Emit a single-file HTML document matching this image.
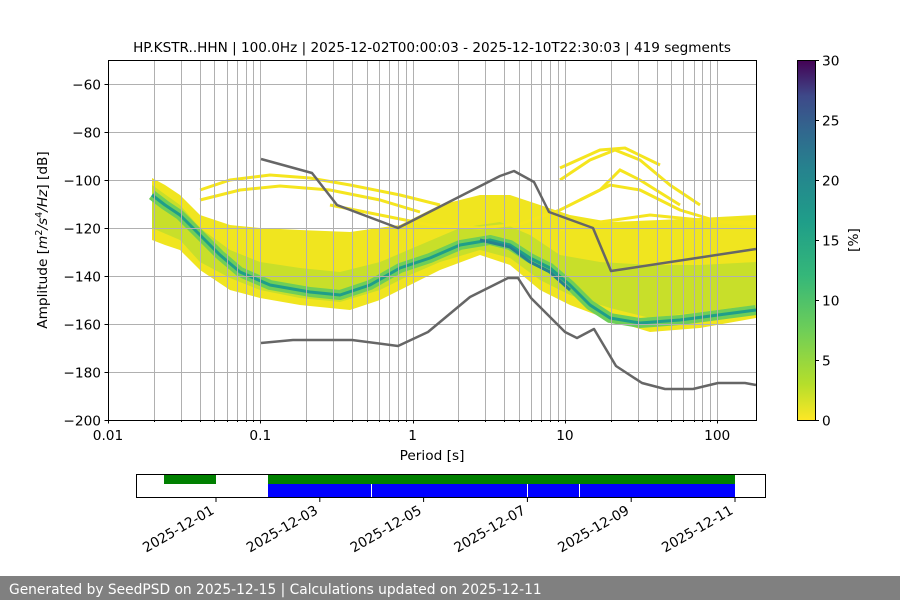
<!DOCTYPE html>
<html><head><meta charset="utf-8"><style>
body{margin:0;background:#fff;font-family:"Liberation Sans","DejaVu Sans",sans-serif}
svg text{font-family:"DejaVu Sans","Liberation Sans",sans-serif;font-size:13.7px;fill:#000}
</style></head><body>
<svg id="s" width="900" height="600" xmlns="http://www.w3.org/2000/svg">
<defs>
<linearGradient id="vir" x1="0" y1="1" x2="0" y2="0">
<stop offset="0" stop-color="#fde725"/><stop offset="0.1" stop-color="#b5de2b"/><stop offset="0.25" stop-color="#6ece58"/><stop offset="0.4" stop-color="#35b779"/><stop offset="0.55" stop-color="#1f9e89"/><stop offset="0.7" stop-color="#26828e"/><stop offset="0.8" stop-color="#31688e"/><stop offset="0.9" stop-color="#3e4989"/><stop offset="1" stop-color="#440154"/>
</linearGradient>
</defs>
<text x="432" y="52" text-anchor="middle" style="font-size:13.6px">HP.KSTR..HHN | 100.0Hz | 2025-12-02T00:00:03 - 2025-12-10T22:30:03 | 419 segments</text>
<g id="data">
<polygon fill="#f0e51f" points="152,178 165,185 180,195 200,215 230,225 260,228 300,230 350,232 400,225 440,205 480,195 510,195 540,205 570,215 610,222 660,220 700,218 756,215 756,318 700,328 650,332 610,320 570,305 540,290 510,265 480,255 440,270 410,285 380,300 350,310 300,305 260,298 230,290 200,270 180,250 165,245 152,240"/>
<polygon fill="#c8df2a" points="152,185 180,205 200,228 230,250 260,262 300,268 340,272 380,262 420,245 460,228 500,222 530,235 560,255 600,262 650,265 700,265 756,262 756,305 700,312 650,318 610,308 570,295 540,280 510,258 480,250 440,262 410,275 380,290 340,302 300,298 260,290 230,278 200,262 180,240 152,228"/>
<polyline fill="none" stroke="#6ece58" stroke-width="10" stroke-linejoin="round" points="152,195 165,205 180,215 200,235 220,255 240,272 270,285 310,292 340,295 370,285 400,268 430,258 460,245 490,240 510,245 530,258 550,268 570,285 590,305 610,318 640,323 680,320 756,310"/>
<polyline fill="none" stroke="#1f9e89" stroke-width="3" stroke-linejoin="round" points="152,195 165,205 180,215 200,235 220,255 240,272 270,285 310,292 340,295 370,285 400,268 430,258 460,245 490,240 510,245 530,258 550,268 570,285 590,305 610,318 640,323 680,320 756,310"/>
<polyline fill="none" stroke="#26828e" stroke-width="3" points="480,240 510,247 530,262 550,272 570,290"/>
<g fill="none" stroke="#f5e51e" stroke-width="3">
<polyline points="200,190 230,180 270,175 310,178 350,185 400,195 440,205"/>
<polyline points="200,200 240,190 280,186 330,190 380,200 420,212"/>
<polyline points="330,205 380,215 430,225 480,228 520,224 560,210 600,190 620,170 640,180 680,205"/>
<polyline points="560,180 590,160 615,150 640,160 670,185 700,205"/>
<polyline points="580,200 610,185 640,190 680,210 720,222 756,222"/>
<polyline points="560,230 600,222 650,215 700,220 756,225"/>
<polyline points="560,168 600,150 625,148 660,165"/>
</g>
</g>
<g id="grid" stroke="#b0b0b0" stroke-width="1"></g>
<g fill="none" stroke="#666" stroke-width="2.5" stroke-linejoin="round">
<polyline points="261,159 312,173 337,205 398,228 500,176 514,171 534,182 549,212 593,228 611,271 756,249"/>
<polyline points="261,343 293,340 352,340 398,346 428,332 470,297 508,278 518,278 531,298 565,332 577,338 594,329 616,366 642,383 665,389 693,389 718,383 745,383 756,385"/>
</g>
<rect x="108.5" y="60.5" width="648" height="360" fill="none" stroke="#000"/>
<g id="ax"></g>
<text x="432" y="460" text-anchor="middle">Period [s]</text>
<text transform="translate(47,240) rotate(-90)" text-anchor="middle">Amplitude [<tspan font-style="italic">m</tspan><tspan dy="-5" style="font-size:9.5px">2</tspan><tspan dy="5" font-style="italic">/s</tspan><tspan dy="-5" style="font-size:9.5px">4</tspan><tspan dy="5" font-style="italic">/Hz</tspan>] [dB]</text>
<rect x="797" y="60" width="18" height="360" fill="url(#vir)"/>
<rect x="797.5" y="60.5" width="18" height="360" fill="none" stroke="#000"/>
<g id="cb"></g>
<text transform="translate(858,240) rotate(-90)" text-anchor="middle">[%]</text>
<rect x="164" y="475" width="52" height="9" fill="#008000"/>
<rect x="268" y="475" width="467" height="9" fill="#008000"/>
<rect x="268" y="484" width="467" height="13" fill="#0000ff"/>
<g stroke="#fff" stroke-width="1"><line x1="371.5" y1="484" x2="371.5" y2="497"/><line x1="527.5" y1="484" x2="527.5" y2="497"/><line x1="579.5" y1="484" x2="579.5" y2="497"/></g>
<rect x="136.5" y="474.5" width="629" height="23" fill="none" stroke="#000"/>
<g id="tl"></g>
<rect x="0" y="576" width="900" height="24" fill="#808080"/>
<text x="9" y="594" style="fill:#fff;font-size:13.8px">Generated by SeedPSD on 2025-12-15 | Calculations updated on 2025-12-11</text>
</svg>
<script>
var NS="http://www.w3.org/2000/svg";
function el(p,t,a,txt){var e=document.createElementNS(NS,t);for(var k in a)e.setAttribute(k,a[k]);if(txt)e.textContent=txt;document.getElementById(p).appendChild(e);return e;}
function X(v){return 108+152.3*Math.log10(v/0.01);}
for(var d=0.01;d<200;d*=10){for(var k=1;k<10;k++){var x=X(d*k);if(x>756)break;x=Math.round(x)+0.5;el("grid","line",{x1:x,y1:60,x2:x,y2:420});el("ax","line",{x1:x,y1:420,x2:x,y2:k==1?423.5:422,stroke:"#000"});}}
var labs=["0.01","0.1","1","10","100"];
for(var i=0;i<5;i++){var x=X(Math.pow(10,i-2));el("ax","text",{x:x,y:440,"text-anchor":"middle"},labs[i]);}
for(var v=-60;v>=-200;v-=20){var y=420-(v+200)*2.4;y=Math.round(y)+0.5;el("grid","line",{x1:108,y1:y,x2:756,y2:y});el("ax","line",{x1:104.5,y1:y,x2:108,y2:y,stroke:"#000"});el("ax","text",{x:101,y:y+5,"text-anchor":"end"},"\u2212"+(-v));}
for(var c=0;c<=30;c+=5){var y=Math.round(420-c*12)+0.5;el("cb","line",{x1:815,y1:y,x2:819,y2:y,stroke:"#000"});el("cb","text",{x:822,y:y+5},""+c);}
var dates=["2025-12-01","2025-12-03","2025-12-05","2025-12-07","2025-12-09","2025-12-11"];
for(var i=0;i<6;i++){var x=216+i*103.8;el("tl","line",{x1:x,y1:498,x2:x,y2:502,stroke:"#000"});el("tl","text",{x:x-1,y:513,"text-anchor":"end",transform:"rotate(-30 "+(x-1)+" 513)"},dates[i]);}
</script>
</body></html>
